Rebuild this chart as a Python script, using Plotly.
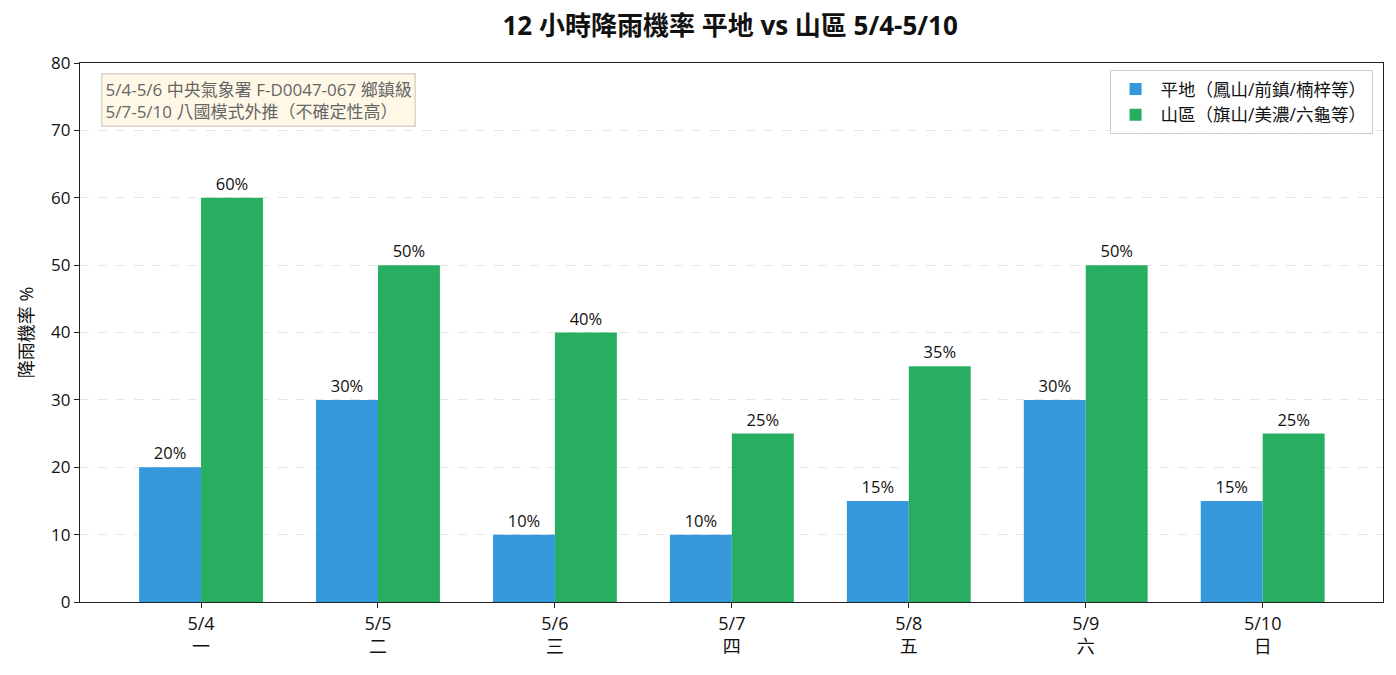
import plotly.graph_objects as go

dates = ["5/4", "5/5", "5/6", "5/7", "5/8", "5/9", "5/10"]
weekdays = ["一", "二", "三", "四", "五", "六", "日"]
plain = [20, 30, 10, 10, 15, 30, 15]
mountain = [60, 50, 40, 25, 35, 50, 25]
plain_name = "平地（鳳山/前鎮/楠梓等）"
mountain_name = "山區（旗山/美濃/六龜等）"
title = "12 小時降雨機率 平地 vs 山區 5/4-5/10"
ylabel = "降雨機率 %"
note = "5/4-5/6 中央氣象署 F-D0047-067 鄉鎮級<br>5/7-5/10 八國模式外推（不確定性高）"

cats = [f"{d}<br>{w}" for d, w in zip(dates, weekdays)]
FONT = "Open Sans, Noto Sans CJK TC"

fig = go.Figure()
fig.add_trace(go.Bar(x=cats, y=plain, name=plain_name, marker_color="#3498db",
                     marker_line_width=0,
                     text=[f"{v}%" for v in plain], textposition="outside",
                     textfont=dict(size=16.5, color="#111"), cliponaxis=False))
fig.add_trace(go.Bar(x=cats, y=mountain, name=mountain_name, marker_color="#27ae60",
                     marker_line_width=0,
                     text=[f"{v}%" for v in mountain], textposition="outside",
                     textfont=dict(size=16.5, color="#111"), cliponaxis=False))

fig.update_layout(
    width=1396, height=675,
    margin=dict(l=80, r=13, t=63, b=73),
    font=dict(family=FONT, size=17, color="#111"),
    paper_bgcolor="white", plot_bgcolor="white",
    barmode="group", bargap=0.3, bargroupgap=0,
    title=dict(text=f"<b>{title}</b>", x=0.523, xanchor="center", y=0.962, yanchor="middle",
               font=dict(size=26, family=FONT, color="#111")),
    legend=dict(x=0.992, y=0.987, xanchor="right", yanchor="top",
                bordercolor="#cccccc", borderwidth=1, bgcolor="rgba(255,255,255,0.9)",
                font=dict(size=17.5), itemwidth=40, tracegroupgap=0),
    showlegend=True,
)
fig.update_xaxes(range=[-0.684, 6.68], showline=True, linecolor="#222", linewidth=1.2,
                 mirror=True, ticks="outside", ticklen=5, tickcolor="#222",
                 tickfont=dict(size=18), showgrid=False)
fig.update_yaxes(range=[0, 80], dtick=10, showline=True, linecolor="#222", linewidth=1.2,
                 mirror=True, ticks="outside", ticklen=5, tickcolor="#222",
                 tickfont=dict(size=17), showgrid=True, gridcolor="#e5e5e5",
                 griddash="dash", gridwidth=1, zeroline=False,
                 title=dict(text=ylabel, font=dict(size=18), standoff=12))

fig.add_annotation(text=note, xref="paper", yref="paper", x=0.016, y=0.981,
                   xanchor="left", yanchor="top", showarrow=False, align="left",
                   font=dict(size=17, color="#666"),
                   bgcolor="#fff8e7", bordercolor="#dcd6c8", borderwidth=1.5, borderpad=3)

fig.write_html("out.html")
